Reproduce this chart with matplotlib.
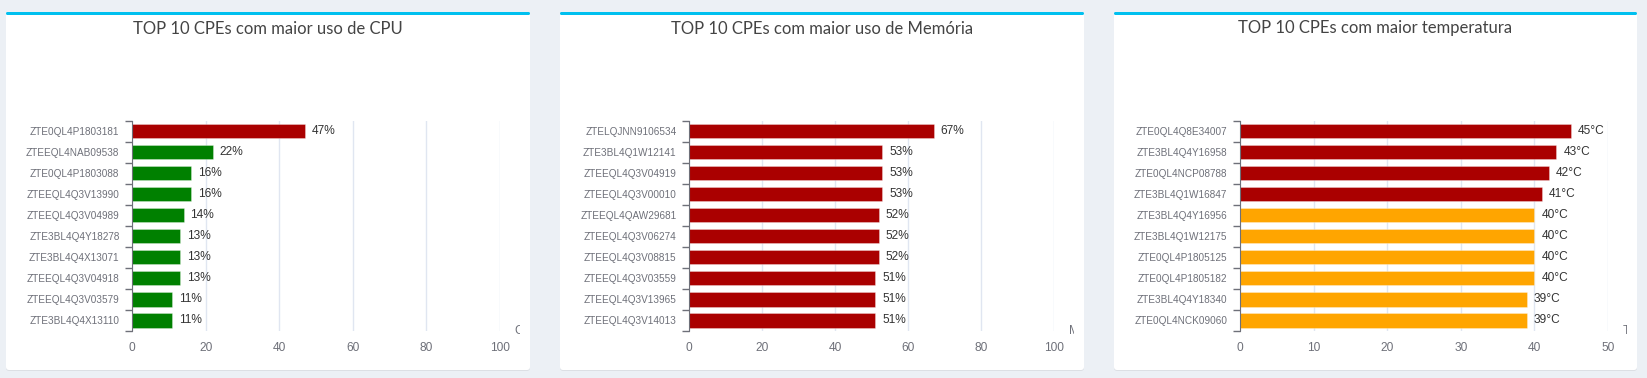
import numpy as np
import matplotlib
matplotlib.use("Agg")
import matplotlib.pyplot as plt
from matplotlib.patches import FancyBboxPatch, Rectangle
from matplotlib.transforms import Bbox, TransformedBbox, offset_copy

cpu_names = ["ZTE0QL4P1803181", "ZTEEQL4NAB09538", "ZTE0QL4P1803088", "ZTEEQL4Q3V13990",
             "ZTEEQL4Q3V04989", "ZTE3BL4Q4Y18278", "ZTE3BL4Q4X13071", "ZTEEQL4Q3V04918",
             "ZTEEQL4Q3V03579", "ZTE3BL4Q4X13110"]
cpu_vals = [47, 22, 16, 16, 14, 13, 13, 13, 11, 11]

mem_names = ["ZTELQJNN9106534", "ZTE3BL4Q1W12141", "ZTEEQL4Q3V04919", "ZTEEQL4Q3V00010",
             "ZTEEQL4QAW29681", "ZTEEQL4Q3V06274", "ZTEEQL4Q3V08815", "ZTEEQL4Q3V03559",
             "ZTEEQL4Q3V13965", "ZTEEQL4Q3V14013"]
mem_vals = [67, 53, 53, 53, 52, 52, 52, 51, 51, 51]

temp_names = ["ZTE0QL4Q8E34007", "ZTE3BL4Q4Y16958", "ZTE0QL4NCP08788", "ZTE3BL4Q1W16847",
              "ZTE3BL4Q4Y16956", "ZTE3BL4Q1W12175", "ZTE0QL4P1805125", "ZTE0QL4P1805182",
              "ZTE3BL4Q4Y18340", "ZTE0QL4NCK09060"]
temp_vals = [45, 43, 42, 41, 40, 40, 40, 40, 39, 39]

W, H = 1647, 378
fig = plt.figure(figsize=(W / 100, H / 100), dpi=100)
fig.patch.set_facecolor("#ecf0f5")

# background layer in pixel units (y down)
bg = fig.add_axes([0, 0, 1, 1])
bg.set_xlim(0, W)
bg.set_ylim(H, 0)
bg.axis("off")

cards = [(6, 530), (560, 1084), (1114, 1637)]
plots = [(132, 500), (689, 1054), (1240, 1608)]
top, bottom = 120.7, 331
card_top, card_bot = 12, 370

charts = [
    ("TOP 10 CPEs com maior uso de CPU", cpu_names, cpu_vals, "%", 100, 20, "CPU (%)", "#008000"),
    ("TOP 10 CPEs com maior uso de Memória", mem_names, mem_vals, "%", 100, 20, "Memória (%)", "#008000"),
    ("TOP 10 CPEs com maior temperatura", temp_names, temp_vals, "°C", 50, 10, "Temperatura (°C)", "#ffa500"),
]

for (cx0, cx1), (px0, px1), (title, names, vals, unit, xmax, step, axname, low_col) in zip(cards, plots, charts):
    bg.add_patch(FancyBboxPatch((cx0, card_top + 1), cx1 - cx0, card_bot - card_top,
                                boxstyle="round,pad=0,rounding_size=3", fc="#dcdfe4", ec="none"))
    bg.add_patch(FancyBboxPatch((cx0, card_top), cx1 - cx0, card_bot - card_top,
                                boxstyle="round,pad=0,rounding_size=3", fc="white", ec="none"))
    bg.add_patch(FancyBboxPatch((cx0, card_top), cx1 - cx0, 3,
                                boxstyle="round,pad=0,rounding_size=1.5", fc="#00c0ef", ec="none"))
    bg.text((cx0 + cx1) / 2, 28.5, title, ha="center", va="center", fontsize=12,
            family="Lato", color="#444444")

    ax = fig.add_axes([px0 / W, 1 - bottom / H, (px1 - px0) / W, (bottom - top) / H])
    y = np.arange(len(vals))
    colors = ["#aa0000" if v > 40 else low_col for v in vals]
    bars = ax.barh(y, vals, height=0.67, color=colors, edgecolor=colors, linewidth=0.6, zorder=3)
    for b in bars:
        b.set_edgecolor((1, 1, 1, 0.35))
    ax.bar_label(bars, labels=[f"{v}{unit}" for v in vals], padding=5,
                 fontsize=8.6, color="#333333", family="Liberation Sans")
    ax.set_xlim(0, xmax)
    ax.set_ylim(len(vals) - 0.5, -0.5)
    ax.set_xticks(np.arange(0, xmax + 1, step))
    ax.set_yticks(y)
    ax.set_yticklabels(names)
    ax.set_yticks(np.arange(len(vals) + 1) - 0.5, minor=True)
    ax.tick_params(axis="y", which="major", length=0, pad=9, labelsize=7.2, labelcolor="#6e7079")
    ax.tick_params(axis="y", which="minor", length=5, width=1, color="#6e7079")
    ax.tick_params(axis="x", length=0, pad=8, labelsize=8.6, labelcolor="#6e7079")
    for lab in ax.get_xticklabels() + ax.get_yticklabels():
        lab.set_family("Liberation Sans")
    ax.grid(axis="x", color="#e0e6f1", linewidth=1, zorder=0)
    for s in ["top", "right", "bottom"]:
        ax.spines[s].set_visible(False)
    ax.spines["left"].set_color("#6e7079")
    ax.spines["left"].set_zorder(4)
    ax.set_facecolor("none")

    # axis name, cut off by the chart container
    t = fig.text(1, 0, axname, transform=offset_copy(ax.transAxes, fig=fig, x=15, y=0, units="dots"),
                 ha="left", va="center", fontsize=8.6, color="#6e7079", family="Liberation Sans")
    t.set_clip_box(TransformedBbox(Bbox([[cx0, card_top], [cx1 - 10, card_bot]]), bg.transData))
    t.set_clip_on(True)

fig.savefig("out.png", dpi=100, facecolor=fig.get_facecolor())
